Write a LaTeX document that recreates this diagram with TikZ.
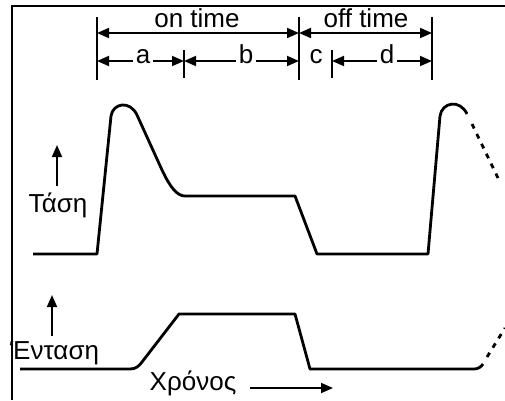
\documentclass[tikz,border=0pt]{standalone}
\usepackage{fontspec}
\setmainfont{Liberation Sans}
\usetikzlibrary{arrows.meta}
\begin{document}
\begin{tikzpicture}[x=1pt, y=-1pt, font=\fontsize{26}{30}\selectfont,
    tick/.style = {line width=1.8pt},
    dim/.style = {line width=1.8pt, -{Triangle[length=12pt,width=10pt]}},
    dimboth/.style = {line width=1.8pt, {Triangle[length=12pt,width=10pt]}-{Triangle[length=12pt,width=10pt]}},
    arr/.style = {line width=1.8pt, -{Triangle[length=12pt,width=10pt]}},
    wave/.style = {line width=2.8pt, line join=round},
    letter/.style = {inner xsep=3pt, inner ysep=0pt, text height=1ex, text depth=0pt}]
    \useasboundingbox (0,0) rectangle (505,400);
    % frame
    \draw[line width=1.8pt] (12,400) -- (12,6) -- (505,6);
    % ticks
    \foreach \x in {97,299,432} \draw[tick] (\x,17) -- (\x,80);
    \foreach \x in {184,332} \draw[tick] (\x,50) -- (\x,78);
    \coordinate (p1) at (97,61);
    \coordinate (p2) at (184,61);
    \coordinate (p3) at (299,61);
    \coordinate (p4) at (332,61);
    \coordinate (p5) at (432,61);
    \coordinate (q1) at (97,33);
    \coordinate (q2) at (299,33);
    \coordinate (q3) at (432,33);
    % on / off time
    \node[inner sep=0pt, anchor=base] (on) at (197,27) {on time};
    \node[inner sep=0pt, anchor=base] (off) at (366,27) {off time};
    \draw[dimboth] (q1) -- (q2);
    \draw[dimboth] (q2) -- (q3);
    % a b c d
    \node[letter] (a) at (143,61) {a};
    \node[letter] (b) at (246,61) {b};
    \node[letter] (c) at (316,61) {c};
    \node[letter] (d) at (387,61) {d};
    \draw[dim] (a) -- (p1);
    \draw[dim] (a) -- (p2);
    \draw[dim] (b) -- (p2);
    \draw[dim] (b) -- (p3);
    \draw[dim] (d) -- (p4);
    \draw[dim] (d) -- (p5);
    % voltage
    \draw[wave] (33,254) -- (97,254) -- (111,116) .. controls (113,103) and (130,100) .. (137,115)
        -- (162,170) .. controls (170,187) and (177,196) .. (185,196) -- (295,196) -- (317,254)
        -- (428,254) -- (440,116) .. controls (442,102) and (460,99) .. (467,114);
    \draw[wave, dash pattern=on 5pt off 6pt] (472,124) -- (498,178);
    % current
    \draw[wave] (20,369) -- (130,369) .. controls (136,369) and (139,366) .. (142,362)
        -- (179,314) -- (295,314) -- (310,369) -- (474,369) .. controls (478,369) and (481,367) .. (483,364);
    \draw[wave, dash pattern=on 5pt off 6pt] (487,357) -- (505,328);
    % labels
    \node[inner sep=0pt, anchor=base] (tasi) at (58,212) {Τάση};
    \coordinate (vup) at (57,145);
    \draw[arr, shorten <=6pt] (tasi.north -| vup) -- (vup);
    \node[anchor=base west, inner sep=0pt] (entasi) at (10,359) {Ένταση};
    \coordinate (iup) at (52,295);
    \draw[arr, shorten <=5pt] (entasi.north -| iup) -- (iup);
    \node[inner sep=0pt, text height=1ex, text depth=0pt] (xron) at (193,388) {Χρόνος};
    \coordinate (tend) at (333,388);
    \draw[arr, shorten <=14pt] (xron) -- (tend);
\end{tikzpicture}
\end{document}
